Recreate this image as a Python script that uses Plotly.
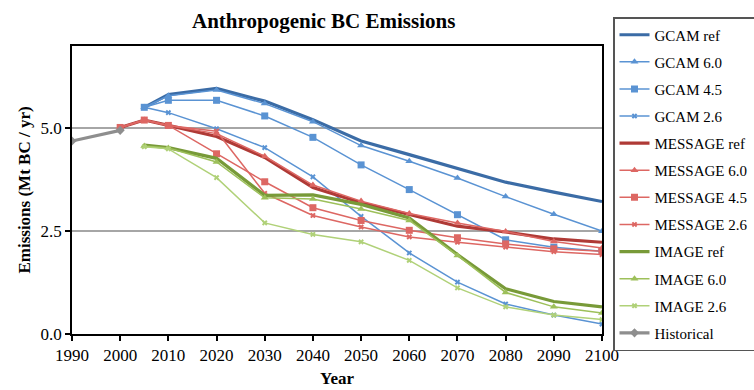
import plotly.graph_objects as go

# Years for each model family
years_gcam = [2005, 2010, 2020, 2030, 2040, 2050, 2060, 2070, 2080, 2090, 2100]
years_message = [2000, 2005, 2010, 2020, 2030, 2040, 2050, 2060, 2070, 2080, 2090, 2100]
years_image = [2005, 2010, 2020, 2030, 2040, 2050, 2060, 2070, 2080, 2090, 2100]
years_hist = [1990, 2000]

# BC emissions (Mt BC / yr)
gcam_ref = [5.51, 5.82, 5.97, 5.66, 5.21, 4.69, 4.36, 4.03, 3.69, 3.45, 3.22]
gcam_60 = [5.51, 5.79, 5.93, 5.60, 5.16, 4.58, 4.20, 3.79, 3.34, 2.91, 2.50]
gcam_45 = [5.51, 5.68, 5.68, 5.30, 4.78, 4.11, 3.51, 2.90, 2.29, 2.11, 2.01]
gcam_26 = [5.51, 5.38, 4.99, 4.53, 3.82, 2.86, 1.97, 1.26, 0.73, 0.46, 0.24]

message_ref = [5.02, 5.20, 5.07, 4.80, 4.29, 3.56, 3.19, 2.90, 2.62, 2.48, 2.31, 2.23]
message_60 = [5.02, 5.20, 5.07, 4.87, 4.32, 3.62, 3.23, 2.93, 2.70, 2.49, 2.25, 2.09]
message_45 = [5.02, 5.20, 5.07, 4.38, 3.70, 3.07, 2.76, 2.52, 2.34, 2.19, 2.07, 2.01]
message_26 = [5.02, 5.20, 5.07, 4.93, 3.42, 2.88, 2.60, 2.36, 2.23, 2.11, 2.00, 1.93]

image_ref = [4.59, 4.53, 4.27, 3.37, 3.38, 3.15, 2.82, 1.93, 1.10, 0.79, 0.66]
image_60 = [4.57, 4.52, 4.18, 3.31, 3.28, 3.04, 2.76, 1.91, 1.01, 0.66, 0.51]
image_26 = [4.55, 4.50, 3.80, 2.70, 2.42, 2.24, 1.79, 1.12, 0.66, 0.46, 0.35]

historical = [4.69, 4.95]

x_ticks = [1990, 2000, 2010, 2020, 2030, 2040, 2050, 2060, 2070, 2080, 2090, 2100]
y_ticks = [0.0, 2.5, 5.0]

SERIF = "Liberation Serif, Times New Roman, serif"

series = [
    ("GCAM ref", years_gcam, gcam_ref, "#3B6CA6", 3.2, None),
    ("GCAM 6.0", years_gcam, gcam_60, "#5A93D3", 1.5, "triangle-up"),
    ("GCAM 4.5", years_gcam, gcam_45, "#5A93D3", 1.5, "square"),
    ("GCAM 2.6", years_gcam, gcam_26, "#5A93D3", 1.5, "x"),
    ("MESSAGE ref", years_message, message_ref, "#AF3A36", 3.2, None),
    ("MESSAGE 6.0", years_message, message_60, "#DD6763", 1.5, "triangle-up"),
    ("MESSAGE 4.5", years_message, message_45, "#DD6763", 1.5, "square"),
    ("MESSAGE 2.6", years_message, message_26, "#DD6763", 1.5, "x"),
    ("IMAGE ref", years_image, image_ref, "#789A38", 3.2, None),
    ("IMAGE 6.0", years_image, image_60, "#9DC05A", 1.5, "triangle-up"),
    ("IMAGE 2.6", years_image, image_26, "#B0D178", 1.5, "x"),
    ("Historical", years_hist, historical, "#8E8E8E", 3.2, "diamond"),
]

fig = go.Figure()
for name, xs, ys, color, width, symbol in series:
    kw = dict(mode="lines")
    if symbol:
        kw = dict(mode="lines+markers",
                  marker=dict(symbol=symbol, size=7 if symbol != "x" else 5,
                              color=color, line=dict(width=0)))
    fig.add_trace(go.Scatter(
        x=xs, y=ys, name=name, legendgroup=name,
        line=dict(color=color, width=width), **kw))

fig.update_layout(
    width=754, height=390,
    margin=dict(l=72, r=152, t=46, b=56, autoexpand=False),
    paper_bgcolor="white", plot_bgcolor="white",
    font=dict(family=SERIF, color="black", size=17),
    showlegend=True,
    legend=dict(
        x=(613 - 72) / 530, xanchor="left",
        y=(334 - 17) / 288, yanchor="top",
        font=dict(family=SERIF, size=15, color="black"),
        bordercolor="#555555", borderwidth=1.5,
        bgcolor="white", tracegroupgap=4.6,
        itemwidth=30, maxheight=380,
    ),
    annotations=[dict(
        text="<b>Anthropogenic BC Emissions</b>",
        xref="paper", yref="paper",
        x=(323.5 - 72) / 530, y=(334 - 21) / 288,
        xanchor="center", yanchor="middle", showarrow=False,
        font=dict(family=SERIF, size=21, color="black"),
    )],
)

fig.update_xaxes(
    range=[1990, 2100], tickvals=x_ticks,
    showline=True, linecolor="black", linewidth=1.5, mirror=True,
    ticks="outside", ticklen=5, tickcolor="black", tickwidth=1.5,
    showgrid=False, zeroline=False,
    tickfont=dict(family=SERIF, size=17),
    title=dict(text="<b>Year</b>", font=dict(family=SERIF, size=17), standoff=8),
)
fig.update_yaxes(
    range=[0, 7.0], tickvals=y_ticks, tickformat=".1f",
    showline=True, linecolor="black", linewidth=1.5, mirror=True,
    ticks="outside", ticklen=5, tickcolor="black", tickwidth=1.5,
    showgrid=True, gridcolor="#A6A6A6", gridwidth=1.5, zeroline=False,
    tickfont=dict(family=SERIF, size=17),
    title=dict(text="<b>Emissions (Mt BC / yr)</b>", font=dict(family=SERIF, size=17), standoff=6),
)

fig.write_html("out.html")
